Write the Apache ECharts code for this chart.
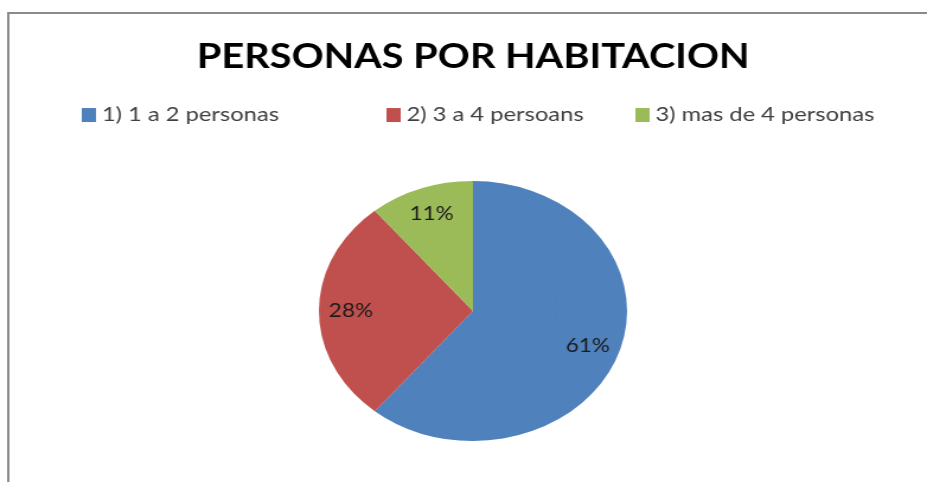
<!DOCTYPE html>
<html style="height: 100%">
    <head>
        <title>Personas por habitacion</title>
        <script type="text/javascript" src="https://cdn.jsdelivr.net/npm/echarts@6/dist/echarts.min.js"></script>

<style>
    body { margin: 0; background: #fff; overflow: hidden; }
    /* the original picture is stretched sideways, so the whole chart is too */
    #target {
        width: 782px;
        height: 482px;
        transform: scaleX(1.1854);
        transform-origin: 0 0;
    }
</style>
    </head>

    <body>
        <div id="target"></div>

<script type="text/javascript">
// chart data
let categories = ["1) 1 a 2 personas", "2) 3 a 4 persoans", "3) mas de 4 personas"];
let percents = [61, 28, 11];
let colors = ["#4F81BD", "#C0504D", "#9BBB59"];

let chart = echarts.init(document.getElementById('target'));

let pieData = categories.map((name, i) => ({
    name: name,
    value: percents[i],
    itemStyle: { color: colors[i] },
}));

// one legend per entry so each can sit in its own column
let legendLeft = [69, 326, 536];
let legends = categories.map((name, i) => ({
    data: [name],
    left: legendLeft[i],
    top: 100,
    padding: 0,
    itemWidth: 12,
    itemHeight: 14,
    itemGap: 0,
    icon: "rect",
    textStyle: {
        fontFamily: "Lato",
        fontSize: 20,
        color: "#404040",
    },
}));

let center = [399, 311];

let option = {
    backgroundColor: "#fff",
    animation: false,
    title: {
        text: "PERSONAS POR HABITACION",
        left: 161,
        top: 27,
        textStyle: {
            fontFamily: "Lato",
            fontWeight: "bold",
            fontSize: 33.5,
            color: "#000",
        },
    },
    legend: legends,
    graphic: [
        // chart frame: only the left and top edges show in the picture
        {
            type: "line",
            shape: { x1: 7, y1: 13, x2: 7, y2: 500 },
            style: { stroke: "#8a8a8a", lineWidth: 2 },
            silent: true,
        },
        {
            type: "line",
            shape: { x1: 6, y1: 13, x2: 800, y2: 13 },
            style: { stroke: "#8a8a8a", lineWidth: 2 },
            silent: true,
        },
    ],
    series: [
        // outer ring carries the labels (label sits mid-ring)
        {
            type: "pie",
            center: center,
            radius: [70, 130],
            startAngle: 90,
            clockwise: true,
            data: pieData,
            label: {
                position: "inside",
                formatter: "{d}%",
                fontFamily: "Lato",
                fontSize: 19,
                color: "#1a1a1a",
            },
            labelLine: { show: false },
            emphasis: { disabled: true },
            silent: true,
        },
        // inner disc fills the hole
        {
            type: "pie",
            center: center,
            radius: [0, 71],
            startAngle: 90,
            clockwise: true,
            data: pieData,
            label: { show: false },
            labelLine: { show: false },
            emphasis: { disabled: true },
            silent: true,
        },
    ],
};

chart.setOption(option);
</script>
    </body>
</html>
